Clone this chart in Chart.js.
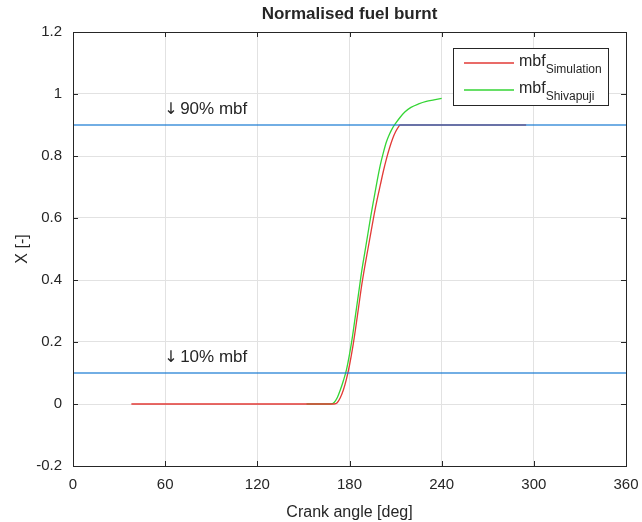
<!DOCTYPE html>
<html>
<head>
<meta charset="utf-8">
<script src="https://cdn.jsdelivr.net/npm/chart.js@4.4.1/dist/chart.umd.min.js"></script>
<style>
  body { margin: 0; background: #fff; }
  canvas { display: block; }
</style>
</head>
<body>
<canvas id="fuelChart" width="642" height="522"></canvas>
<script>
// mass fraction burnt vs crank angle
const simAngle = [38, 170, 172, 174, 176, 178, 180, 182, 184, 186, 188, 190, 192, 194, 196, 198, 200, 202, 204, 206, 208, 210, 212, 213, 295];
const simX     = [0, 0, 0.004, 0.02, 0.045, 0.08, 0.125, 0.18, 0.245, 0.315, 0.385, 0.445, 0.5, 0.555, 0.61, 0.66, 0.705, 0.75, 0.79, 0.825, 0.855, 0.878, 0.895, 0.9, 0.9];

const shivAngle = [152, 168, 170, 172, 174, 176, 178, 180, 182, 184, 186, 188, 190, 192, 194, 196, 198, 200, 202, 204, 206, 208, 210, 213, 216, 220, 225, 230, 235, 240];
const shivX     = [0, 0, 0.005, 0.02, 0.045, 0.075, 0.11, 0.16, 0.22, 0.29, 0.36, 0.43, 0.49, 0.55, 0.61, 0.665, 0.72, 0.77, 0.81, 0.845, 0.87, 0.89, 0.905, 0.925, 0.942, 0.957, 0.968, 0.976, 0.981, 0.986];

const xTicks = [0, 60, 120, 180, 240, 300, 360];
const yTicks = [-0.2, 0, 0.2, 0.4, 0.6, 0.8, 1, 1.2];

const markLevels = [0.9, 0.1];
const markLabels = ['90% mbf', '10% mbf'];
const markLabelAngle = 60;

const FONT = '"Liberation Sans", Arial, Helvetica, sans-serif';
const INK = '#262626';

function toPoints(xs, ys) {
    return xs.map((x, i) => ({x: x, y: ys[i]}));
}

function levelLine(level) {
    return {
        label: 'level ' + level,
        data: [{x: xTicks[0], y: level}, {x: xTicks[xTicks.length - 1], y: level}],
        borderColor: 'rgba(20, 120, 210, 0.8)',
        borderWidth: 1.3,
        pointRadius: 0,
        fill: false,
    };
}

// box, inner ticks, level labels, legend and title
const decorations = {
    id: 'decorations',
    afterDatasetsDraw(chart) {
        const ctx = chart.ctx;
        const xs = chart.scales.x, ys = chart.scales.y;
        ctx.save();
        ctx.fillStyle = INK;
        ctx.textBaseline = 'middle';
        ctx.textAlign = 'left';
        markLevels.forEach((lvl, i) => {
            const px = xs.getPixelForValue(markLabelAngle);
            const py = ys.getPixelForValue(lvl + 0.05);
            ctx.font = '16px "DejaVu Sans", sans-serif';
            ctx.fillText('↓', px - 1, py);
            ctx.font = '17px ' + FONT;
            ctx.fillText(markLabels[i], px + 15, py);
        });
        ctx.restore();
    },
    afterDraw(chart) {
        const ctx = chart.ctx;
        const a = chart.chartArea;
        const xs = chart.scales.x, ys = chart.scales.y;
        ctx.save();

        // axes box
        ctx.strokeStyle = INK;
        ctx.lineWidth = 1;
        ctx.strokeRect(Math.round(a.left) + 0.5, Math.round(a.top) + 0.5, Math.round(a.right - a.left), Math.round(a.bottom - a.top));

        // inward ticks on all four sides
        const tl = 5;
        ctx.beginPath();
        xTicks.forEach(v => {
            const px = Math.round(xs.getPixelForValue(v)) + 0.5;
            ctx.moveTo(px, a.bottom); ctx.lineTo(px, a.bottom - tl);
            ctx.moveTo(px, a.top); ctx.lineTo(px, a.top + tl);
        });
        yTicks.forEach(v => {
            const py = Math.round(ys.getPixelForValue(v)) + 0.5;
            ctx.moveTo(a.left, py); ctx.lineTo(a.left + tl, py);
            ctx.moveTo(a.right, py); ctx.lineTo(a.right - tl, py);
        });
        ctx.stroke();

        // title
        ctx.fillStyle = INK;
        ctx.font = 'bold 17px ' + FONT;
        ctx.textAlign = 'center';
        ctx.textBaseline = 'middle';
        ctx.fillText('Normalised fuel burnt', (a.left + a.right) / 2, 14);

        // legend
        const bx = a.right - 173, by = a.top + 16, bw = 155, bh = 57;
        ctx.fillStyle = '#fff';
        ctx.fillRect(bx, by, bw, bh);
        ctx.strokeStyle = INK;
        ctx.strokeRect(bx + 0.5, by + 0.5, bw, bh);

        const entries = [
            {color: chart.data.datasets[2].borderColor, sub: 'Simulation', y: by + 15},
            {color: chart.data.datasets[3].borderColor, sub: 'Shivapuji', y: by + 42},
        ];
        entries.forEach(e => {
            ctx.strokeStyle = e.color;
            ctx.lineWidth = 1.3;
            ctx.beginPath();
            ctx.moveTo(bx + 11, e.y);
            ctx.lineTo(bx + 61, e.y);
            ctx.stroke();
            ctx.fillStyle = INK;
            ctx.textAlign = 'left';
            ctx.textBaseline = 'alphabetic';
            ctx.font = '16px ' + FONT;
            ctx.fillText('mbf', bx + 66, e.y + 3);
            const w = ctx.measureText('mbf').width;
            ctx.font = '12px ' + FONT;
            ctx.fillText(e.sub, bx + 66 + w, e.y + 10);
        });

        ctx.restore();
    }
};

const ctx = document.getElementById('fuelChart').getContext('2d');
const fuelChart = new Chart(ctx, {
    type: 'line',
    data: {
        datasets: [
            levelLine(markLevels[0]),
            levelLine(markLevels[1]),
            {
                label: 'mbf Simulation',
                data: toPoints(simAngle, simX),
                borderColor: '#e23a36',
                borderWidth: 1.3,
                pointRadius: 0,
                fill: false,
                cubicInterpolationMode: 'monotone',
            },
            {
                label: 'mbf Shivapuji',
                data: toPoints(shivAngle, shivX),
                borderColor: '#35d535',
                borderWidth: 1.3,
                pointRadius: 0,
                fill: false,
                cubicInterpolationMode: 'monotone',
            }
        ]
    },
    options: {
        responsive: false,
        animation: false,
        devicePixelRatio: 1,
        layout: {padding: {top: 32, right: 16, left: 0, bottom: 0}},
        plugins: {
            legend: {display: false},
            title: {display: false},
            tooltip: {enabled: false},
        },
        scales: {
            x: {
                type: 'linear',
                min: 0,
                max: 360,
                afterBuildTicks: s => { s.ticks = xTicks.map(v => ({value: v})); },
                afterFit: s => {
                    s.height = 56;
                    s.paddingLeft = 0;
                    s.paddingRight = 0;
                },
                ticks: {
                    padding: 10,
                    maxRotation: 0,
                    color: INK,
                    font: {family: FONT, size: 15},
                },
                grid: {color: '#e2e2e2', drawTicks: false},
                border: {color: INK},
                title: {
                    display: true,
                    text: 'Crank angle [deg]',
                    color: INK,
                    font: {family: FONT, size: 16},
                    padding: {top: 3, bottom: 0},
                },
            },
            y: {
                type: 'linear',
                min: -0.2,
                max: 1.2,
                afterBuildTicks: s => { s.ticks = yTicks.map(v => ({value: v})); },
                afterFit: s => { s.width = 73; },
                ticks: {
                    padding: 11,
                    color: INK,
                    font: {family: FONT, size: 15},
                    callback: v => String(+v.toFixed(1)),
                },
                grid: {color: '#e2e2e2', drawTicks: false},
                border: {color: INK},
                title: {
                    display: true,
                    text: 'X [-]',
                    color: INK,
                    font: {family: FONT, size: 16},
                    padding: {top: 13, bottom: 0},
                },
            }
        }
    },
    plugins: [decorations]
});
</script>
</body>
</html>
